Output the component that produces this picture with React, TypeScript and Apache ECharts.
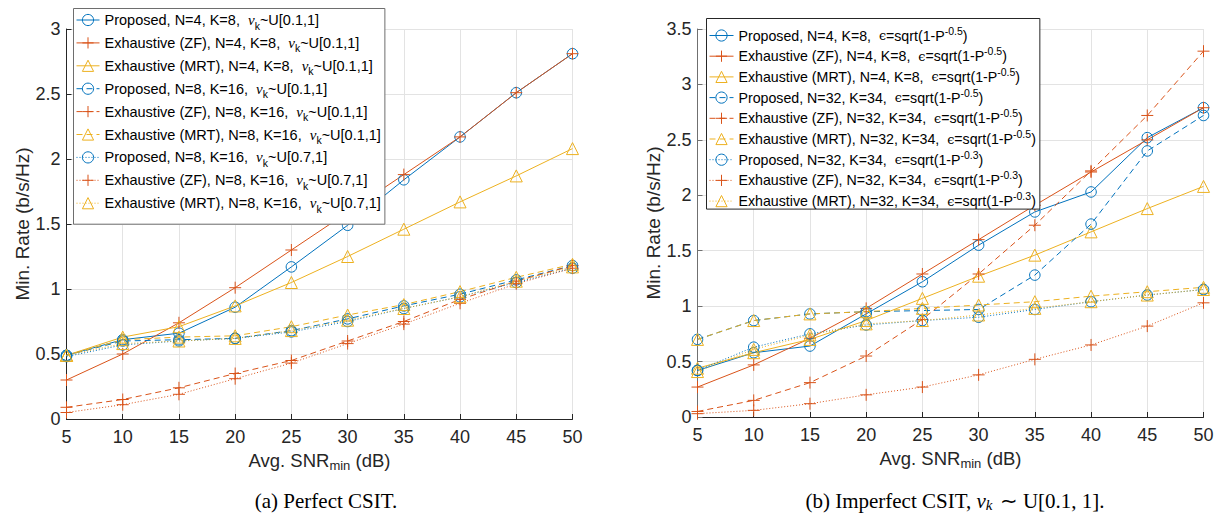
import React, { useEffect, useRef } from "react";
import * as echarts from "echarts";

// ---------- data ----------
const snr = [5, 10, 15, 20, 25, 30, 35, 40, 45, 50];

// (a) Perfect CSIT
const aPropN4 = [0.49, 0.61, 0.66, 0.86, 1.17, 1.49, 1.84, 2.17, 2.51, 2.81];
const aZfN4 = [0.30, 0.50, 0.74, 1.01, 1.30, 1.59, 1.88, 2.17, 2.51, 2.81];
const aMrtN4 = [0.49, 0.63, 0.71, 0.87, 1.05, 1.25, 1.46, 1.67, 1.87, 2.08];
const aPropN8 = [0.49, 0.60, 0.61, 0.62, 0.68, 0.77, 0.87, 0.96, 1.07, 1.18];
const aZfN8 = [0.09, 0.15, 0.24, 0.35, 0.45, 0.60, 0.75, 0.92, 1.06, 1.18];
const aMrtN8 = [0.49, 0.61, 0.63, 0.64, 0.71, 0.80, 0.88, 0.98, 1.09, 1.19];
const aPropN8b = [0.48, 0.57, 0.60, 0.62, 0.67, 0.75, 0.85, 0.94, 1.05, 1.16];
const aZfN8b = [0.05, 0.11, 0.19, 0.31, 0.43, 0.58, 0.73, 0.89, 1.04, 1.16];
const aMrtN8b = [0.49, 0.58, 0.60, 0.62, 0.68, 0.76, 0.85, 0.94, 1.06, 1.17];

// (b) Imperfect CSIT
const bPropN4 = [0.42, 0.58, 0.64, 0.93, 1.22, 1.55, 1.85, 2.03, 2.52, 2.79];
const bZfN4 = [0.27, 0.47, 0.71, 0.98, 1.29, 1.60, 1.91, 2.21, 2.50, 2.79];
const bMrtN4 = [0.44, 0.58, 0.70, 0.87, 1.07, 1.27, 1.46, 1.67, 1.88, 2.08];
const bPropN32 = [0.70, 0.87, 0.93, 0.95, 0.96, 0.97, 1.28, 1.74, 2.40, 2.72];
const bZfN32 = [0.05, 0.15, 0.31, 0.55, 0.88, 1.29, 1.73, 2.22, 2.72, 3.30];
const bMrtN32 = [0.70, 0.87, 0.93, 0.95, 0.98, 1.01, 1.04, 1.09, 1.13, 1.17];
const bPropN32b = [0.42, 0.63, 0.75, 0.83, 0.87, 0.90, 0.97, 1.04, 1.10, 1.15];
const bZfN32b = [0.03, 0.06, 0.12, 0.20, 0.27, 0.38, 0.52, 0.65, 0.82, 1.03];
const bMrtN32b = [0.41, 0.61, 0.74, 0.84, 0.87, 0.92, 0.98, 1.04, 1.10, 1.15];

// legend labels
const aNames = [
  "Proposed, N=4, K=8,  νk~U[0.1,1]",
  "Exhaustive (ZF), N=4, K=8,  νk~U[0.1,1]",
  "Exhaustive (MRT), N=4, K=8,  νk~U[0.1,1]",
  "Proposed, N=8, K=16,  νk~U[0.1,1]",
  "Exhaustive (ZF), N=8, K=16,  νk~U[0.1,1]",
  "Exhaustive (MRT), N=8, K=16,  νk~U[0.1,1]",
  "Proposed, N=8, K=16,  νk~U[0.7,1]",
  "Exhaustive (ZF), N=8, K=16,  νk~U[0.7,1]",
  "Exhaustive (MRT), N=8, K=16,  νk~U[0.7,1]",
];
const bNames = [
  "Proposed, N=4, K=8,  ϵ=sqrt(1-P-0.5)",
  "Exhaustive (ZF), N=4, K=8,  ϵ=sqrt(1-P-0.5)",
  "Exhaustive (MRT), N=4, K=8,  ϵ=sqrt(1-P-0.5)",
  "Proposed, N=32, K=34,  ϵ=sqrt(1-P-0.5)",
  "Exhaustive (ZF), N=32, K=34,  ϵ=sqrt(1-P-0.5)",
  "Exhaustive (MRT), N=32, K=34,  ϵ=sqrt(1-P-0.5)",
  "Proposed, N=32, K=34,  ϵ=sqrt(1-P-0.3)",
  "Exhaustive (ZF), N=32, K=34,  ϵ=sqrt(1-P-0.3)",
  "Exhaustive (MRT), N=32, K=34,  ϵ=sqrt(1-P-0.3)",
];

const xTicks = { min: 5, max: 50, interval: 5 };
const aY = { min: 0, max: 3, interval: 0.5 };
const bY = { min: 0, max: 3.5, interval: 0.5 };

const BLUE = "#0072BD";
const ORANGE = "#D95319";
const YELLOW = "#EDB120";
const AX = "#262626";
const PLUS = "path://M0,6L12,6M6,0L6,12";

function richLegend(name: string): string {
  let m = name.match(/^(.*)νk~(.*)$/);
  if (m) return `${m[1]}{nu|ν}{sub|k}~${m[2]}`;
  m = name.match(/^(.*)ϵ=sqrt\(1-P(-0\.\d)\)$/);
  if (m) return `${m[1]}{eps|ϵ}=sqrt(1-P{sup|${m[2]}})`;
  return name;
}

function mk(name: string, data: number[], color: string, marker: string, dash: string, idx: number) {
  return {
    type: "line",
    name,
    xAxisIndex: idx,
    yAxisIndex: idx,
    data: snr.map((x, i) => [x, data[i]]),
    symbol: marker === "o" ? "circle" : marker === "+" ? PLUS : "triangle",
    symbolSize: marker === "o" ? 10.5 : 12,
    showAllSymbol: true,
    lineStyle: {
      color,
      width: 1,
      type: dash === "-" ? "solid" : dash === "--" ? [6, 4] : [1, 2],
    },
    itemStyle: { color: "rgba(0,0,0,0)", borderColor: color, borderWidth: 1 },
    emphasis: { disabled: true },
  };
}

function legendRich(fs: number) {
  return {
    nu: { fontSize: fs + 0.5, fontFamily: "Liberation Serif", fontStyle: "italic", color: "#000", lineHeight: 16 },
    sub: { fontSize: 10.5, fontFamily: "Liberation Sans", color: "#000", lineHeight: 16, height: 2, padding: [11, 0, 0, 0] },
    eps: { fontSize: fs - 1.5, fontFamily: "DejaVu Serif", color: "#000", lineHeight: 16 },
    sup: { fontSize: 10.5, fontFamily: "Liberation Sans", color: "#000", lineHeight: 16, height: 2, padding: [0, 0, 10, 0] },
  };
}

function xAxis(idx: number) {
  return {
    type: "value",
    gridIndex: idx,
    ...xTicks,
    name: "Avg. SNR{sub|min} (dB)",
    nameLocation: "middle",
    nameGap: 23,
    nameTextStyle: {
      fontSize: 18.5,
      color: AX,
      fontFamily: "Liberation Sans",
      lineHeight: 20,
      rich: { sub: { fontSize: 13, color: AX, fontFamily: "Liberation Sans", lineHeight: 20, height: 2, padding: [10, 0, 0, 0] } },
    },
    axisLine: { show: true, onZero: false, lineStyle: { color: AX, width: 1 } },
    axisTick: { show: true, inside: true, length: 5, lineStyle: { color: AX } },
    axisLabel: { fontSize: 18, color: AX, margin: 9, fontFamily: "Liberation Sans" },
    splitLine: { show: true, lineStyle: { color: "#e3e3e3", width: 1 } },
  };
}

function yAxis(idx: number, r: { min: number; max: number; interval: number }, lineColor: string) {
  return {
    type: "value",
    gridIndex: idx,
    ...r,
    name: "Min. Rate (b/s/Hz)",
    nameLocation: "middle",
    nameGap: 35,
    nameTextStyle: { fontSize: 19, color: AX, fontFamily: "Liberation Sans" },
    axisLine: { show: true, lineStyle: { color: lineColor, width: 1 } },
    axisTick: { show: true, inside: true, length: 5, lineStyle: { color: lineColor } },
    axisLabel: { fontSize: 18, color: AX, margin: 6, fontFamily: "Liberation Sans" },
    splitLine: { show: true, lineStyle: { color: "#e3e3e3", width: 1 } },
  };
}

export default function App() {
  const ref = useRef<HTMLDivElement>(null);
  useEffect(() => {
    document.body.style.margin = "0";
    const chart = echarts.init(ref.current!, null, { renderer: "svg" });
    const series = [
      mk(aNames[0], aPropN4, BLUE, "o", "-", 0),
      mk(aNames[1], aZfN4, ORANGE, "+", "-", 0),
      mk(aNames[2], aMrtN4, YELLOW, "^", "-", 0),
      mk(aNames[3], aPropN8, BLUE, "o", "--", 0),
      mk(aNames[4], aZfN8, ORANGE, "+", "--", 0),
      mk(aNames[5], aMrtN8, YELLOW, "^", "--", 0),
      mk(aNames[6], aPropN8b, BLUE, "o", ":", 0),
      mk(aNames[7], aZfN8b, ORANGE, "+", ":", 0),
      mk(aNames[8], aMrtN8b, YELLOW, "^", ":", 0),
      mk(bNames[0], bPropN4, BLUE, "o", "-", 1),
      mk(bNames[1], bZfN4, ORANGE, "+", "-", 1),
      mk(bNames[2], bMrtN4, YELLOW, "^", "-", 1),
      mk(bNames[3], bPropN32, BLUE, "o", "--", 1),
      mk(bNames[4], bZfN32, ORANGE, "+", "--", 1),
      mk(bNames[5], bMrtN32, YELLOW, "^", "--", 1),
      mk(bNames[6], bPropN32b, BLUE, "o", ":", 1),
      mk(bNames[7], bZfN32b, ORANGE, "+", ":", 1),
      mk(bNames[8], bMrtN32b, YELLOW, "^", ":", 1),
    ];
    const legendCommon = (fs: number) => ({
      orient: "vertical",
      itemWidth: 23,
      itemHeight: 14,
      selectedMode: false,
      formatter: (n: string) => richLegend(n),
      itemStyle: { borderWidth: 1 },
      lineStyle: { width: 1 },
      backgroundColor: "#fff",
      borderWidth: 1,
      textStyle: {
        fontSize: fs,
        fontFamily: "Liberation Sans",
        color: "#000",
        lineHeight: 16,
        rich: legendRich(fs),
      },
      z: 5,
    });
    chart.setOption({
      animation: false,
      backgroundColor: "#fff",
      textStyle: { fontFamily: "Liberation Sans" },
      grid: [
        { left: 66.5, top: 29, width: 506, height: 390, containLabel: false, outerBoundsMode: "none" },
        { left: 697.5, top: 29, width: 506, height: 388, containLabel: false, outerBoundsMode: "none" },
      ],
      xAxis: [xAxis(0), xAxis(1)],
      yAxis: [yAxis(0, aY, AX), yAxis(1, bY, "#707070")],
      legend: [
        {
          ...legendCommon(14.5),
          data: aNames,
          left: 73.5,
          top: 8.5,
          itemGap: 3.9,
          padding: [3.5, 4, 10, 2.5],
          borderColor: "#6e6e6e",
        },
        {
          ...legendCommon(14.2),
          data: bNames,
          left: 706.5,
          top: 18.5,
          itemGap: 2.2,
          itemWidth: 24,
          padding: [6.5, 4, 0, 2.5],
          borderColor: "#262626",
        },
      ],
      graphic: [
        {
          type: "text",
          z: 10,
          x: 326,
          y: 501,
          style: {
            text: "(a) Perfect CSIT.",
            fontSize: 21,
            fontFamily: "Liberation Serif",
            fill: "#000",
            align: "center",
            verticalAlign: "middle",
          },
        },
        {
          type: "text",
          z: 10,
          x: 955,
          y: 501,
          style: {
            text: "(b) Imperfect CSIT, {it|ν}{sub|k} ∼ U[0.1, 1].",
            fontSize: 21,
            fontFamily: "Liberation Serif",
            fill: "#000",
            align: "center",
            verticalAlign: "middle",
            lineHeight: 24,
            rich: {
              it: { fontSize: 21, fontFamily: "Liberation Serif", fontStyle: "italic", fill: "#000", lineHeight: 24 },
              sub: {
                fontSize: 15,
                fontFamily: "Liberation Serif",
                fontStyle: "italic",
                fill: "#000",
                lineHeight: 24,
                padding: [8, 2, 0, 0],
              },
            },
          },
        },
      ],
      series,
    });
    return () => chart.dispose();
  }, []);
  return (
    <div
      ref={ref}
      style={{ position: "absolute", left: 0, top: 0, width: 1219, height: 518 }}
    />
  );
}
